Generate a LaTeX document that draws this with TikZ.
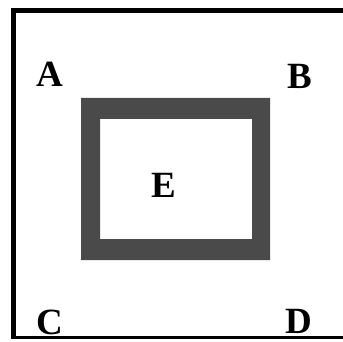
\documentclass[tikz,border=0pt]{standalone}
\usepackage{fontspec}
\setmainfont{Liberation Serif}
\definecolor{framegray}{HTML}{4A4A4A}
\begin{document}
\begin{tikzpicture}[x=1pt,y=-1pt,
  lbl/.style={font=\fontsize{37}{37}\selectfont\bfseries, inner sep=0pt, anchor=base},
  border/.style={line width=3.5pt, black}]
\useasboundingbox (0,0) rectangle (343,342);
\fill[white] (0,0) rectangle (343,342);
% frame
\fill[framegray, even odd rule] (81,98) rectangle (270,260) (100,119) rectangle (252,239);
% labels
\node[lbl] (A) at (49.5,87) {A};
\node[lbl] (B) at (300,89) {B};
\node[lbl] (E) at (164,197) {E};
\begin{scope}
\clip (0,0) rectangle (343,336);
\node[lbl] (C) at (50,334) {C};
\node[lbl] (D) at (299,333) {D};
\end{scope}
% outer border
\draw[border, line width=4.5pt] (13.5,339) -- (13.5,10.5) -- (343,10.5);
\draw[border, line width=3pt] (12,337.5) -- (343,337.5);
\end{tikzpicture}
\end{document}
